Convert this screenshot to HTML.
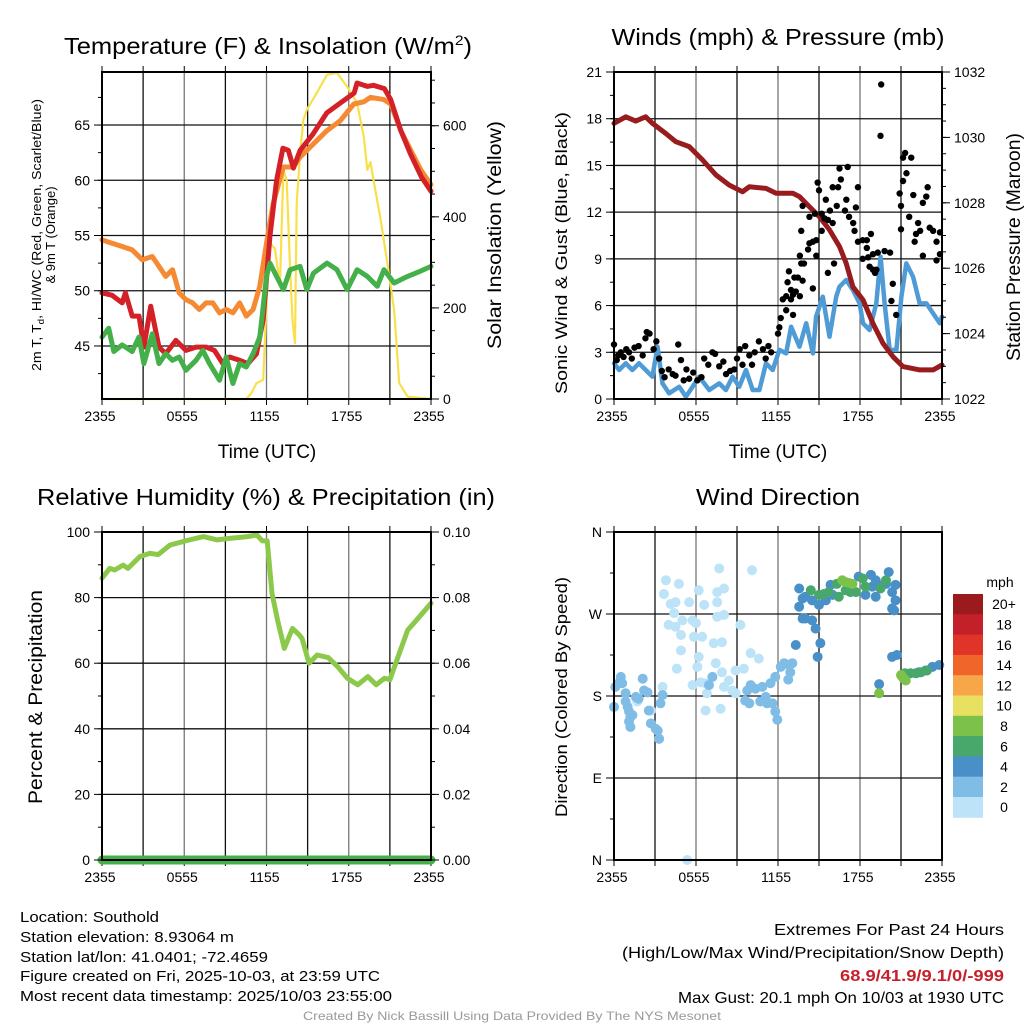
<!DOCTYPE html>
<html><head><meta charset="utf-8"><style>
html,body{margin:0;padding:0;background:#fff;}
svg{display:block;font-family:"Liberation Sans",sans-serif;}
</style></head><body>
<svg id="root" width="1024" height="1024" viewBox="0 0 1024 1024">
<rect width="1024" height="1024" fill="#fff"/>
<g id="layer"></g>
<!-- titles -->
<text x="64" y="54" font-size="23" textLength="408" lengthAdjust="spacingAndGlyphs">Temperature (F) &amp; Insolation (W/m<tspan font-size="14" dy="-9">2</tspan><tspan dy="9">)</tspan></text>
<text x="778" y="45" font-size="23" text-anchor="middle" textLength="333" lengthAdjust="spacingAndGlyphs">Winds (mph) &amp; Pressure (mb)</text>
<text x="266" y="505" font-size="23" text-anchor="middle" textLength="458" lengthAdjust="spacingAndGlyphs">Relative Humidity (%) &amp; Precipitation (in)</text>
<text x="778" y="505" font-size="23" text-anchor="middle" textLength="164" lengthAdjust="spacingAndGlyphs">Wind Direction</text>
<!-- axis titles -->
<text x="267" y="458" font-size="19" text-anchor="middle">Time (UTC)</text>
<text x="778" y="458" font-size="19" text-anchor="middle">Time (UTC)</text>
<text transform="translate(41,235) rotate(-90)" font-size="13" text-anchor="middle" textLength="272" lengthAdjust="spacingAndGlyphs">2m T, T<tspan font-size="9" dy="3">d</tspan><tspan dy="-3">, HI/WC (Red, Green, Scarlet/Blue)</tspan></text>
<text transform="translate(55,235) rotate(-90)" font-size="13" text-anchor="middle">&amp; 9m T (Orange)</text>
<text transform="translate(501,235) rotate(-90)" font-size="19" text-anchor="middle" textLength="228" lengthAdjust="spacingAndGlyphs">Solar Insolation (Yellow)</text>
<text transform="translate(567,253) rotate(-90)" font-size="17" text-anchor="middle" textLength="282" lengthAdjust="spacingAndGlyphs">Sonic Wind &amp; Gust (Blue, Black)</text>
<text transform="translate(1020,247) rotate(-90)" font-size="19" text-anchor="middle" textLength="228" lengthAdjust="spacingAndGlyphs">Station Pressure (Maroon)</text>
<text transform="translate(42,697) rotate(-90)" font-size="19" text-anchor="middle" textLength="214" lengthAdjust="spacingAndGlyphs">Percent &amp; Precipitation</text>
<text transform="translate(567,697) rotate(-90)" font-size="17" text-anchor="middle" textLength="240" lengthAdjust="spacingAndGlyphs">Direction (Colored By Speed)</text>
<text x="1000" y="587" font-size="14" text-anchor="middle">mph</text>
<!-- footer -->
<g font-size="15">
<text x="20" y="922" textLength="139" lengthAdjust="spacingAndGlyphs">Location: Southold</text>
<text x="20" y="942" textLength="214" lengthAdjust="spacingAndGlyphs">Station elevation: 8.93064 m</text>
<text x="20" y="962" textLength="248" lengthAdjust="spacingAndGlyphs">Station lat/lon: 41.0401; -72.4659</text>
<text x="20" y="981" textLength="360" lengthAdjust="spacingAndGlyphs">Figure created on Fri, 2025-10-03, at 23:59 UTC</text>
<text x="20" y="1001" textLength="372" lengthAdjust="spacingAndGlyphs">Most recent data timestamp: 2025/10/03 23:55:00</text>
</g>
<g font-size="16" text-anchor="end">
<text x="1004" y="935" textLength="230" lengthAdjust="spacingAndGlyphs">Extremes For Past 24 Hours</text>
<text x="1004" y="958" textLength="382" lengthAdjust="spacingAndGlyphs">(High/Low/Max Wind/Precipitation/Snow Depth)</text>
<text x="1004" y="981" fill="#c8202a" font-weight="bold" textLength="164" lengthAdjust="spacingAndGlyphs">68.9/41.9/9.1/0/-999</text>
<text x="1004" y="1003" textLength="326" lengthAdjust="spacingAndGlyphs">Max Gust: 20.1 mph On 10/03 at 1930 UTC</text>
</g>
<text x="512" y="1020" font-size="12" fill="#999" text-anchor="middle" textLength="418" lengthAdjust="spacingAndGlyphs">Created By Nick Bassill Using Data Provided By The NYS Mesonet</text>
</svg>
<script>
// ---- data ----
const timeTicks = ["2355","0555","1155","1755","2355"];
const tempTicks = [45,50,55,60,65];
const insolTicks = [0,200,400,600];
const windTicks = [0,3,6,9,12,15,18,21];
const presTicks = [1022,1024,1026,1028,1030,1032];
const rhTicks = [0,20,40,60,80,100];
const precipTicks = ["0.00","0.02","0.04","0.06","0.08","0.10"];
const dirTicks = ["N","E","S","W","N"];
const speedBins = ["0","2","4","6","8","10","12","14","16","18","20+"];
const speedColors = ["#bde3f8","#80bde6","#4a90c8","#48a86c","#7cc24a","#e8e060","#f8a748","#f0652a","#e03428","#c4202a","#9a1a1e"];

const tR = [0,0.73,1.47,1.71,2.2,2.7,3.06,3.55,4.16,4.65,5.39,6.12,6.86,7.59,8.2,8.82,9.3,10.04,10.65,11.27,11.76,12.25,12.74,13.2,13.6,13.96,14.45,15.4,16.4,17.4,18.4,18.6,19.35,19.8,20.6,21.06,21.8,22.5,23.3,24];
const tempRed = [49.8,49.6,48.9,49.8,47.7,47.7,44.9,48.6,44.9,44.3,45.5,44.6,44.9,44.9,44.6,43.4,44.0,43.7,43.4,44.3,47.4,54.9,60.0,62.9,62.7,61.1,62.7,64.2,66.1,67.0,67.9,68.8,68.5,68.6,68.3,67.3,64.5,62.4,60.3,59.0];
const tO = [0,0.73,1.47,2.2,2.94,3.67,4.16,4.65,5.14,5.63,6.12,6.61,7.1,7.59,8.08,8.57,9.06,9.55,10.04,10.53,11.02,11.51,12.0,12.49,13.23,13.96,14.45,15.43,16.41,17.39,18.37,19.1,19.59,20.57,21.06,21.8,22.53,23.27,24];
const temp9m = [54.6,54.3,54.0,53.7,52.8,53.1,52.2,51.3,51.9,49.8,49.2,48.9,48.3,48.9,48.9,48.0,48.3,48.0,48.9,47.7,48.3,50.4,54.3,57.9,61.2,61.2,62.1,63.3,64.5,65.4,66.9,67.1,67.5,67.3,66.9,64.5,62.7,60.9,59.6];
const tG = [0,0.49,0.86,1.47,2.2,2.69,3.06,3.67,4.16,4.65,5.14,5.63,6.12,6.86,7.35,7.84,8.57,9.06,9.55,10.04,10.53,11.02,11.51,12.0,12.25,12.74,13.23,13.72,14.45,14.94,15.43,16.41,17.14,17.88,18.61,19.35,20.08,20.57,21.31,22.29,23.27,24];
const dewpoint = [45.8,46.6,44.5,45.1,44.5,45.8,43.4,46.1,43.4,44.3,43.7,44.0,42.8,43.7,44.6,43.4,41.9,44.0,41.6,43.4,43.1,44.3,45.8,51.3,52.5,51.3,50.1,51.9,52.2,50.1,51.6,52.5,51.9,50.1,51.9,51.3,50.4,51.9,50.7,51.3,51.8,52.2];
const tS = [0,10.53,10.9,11.27,11.76,12.0,12.25,12.61,12.98,13.23,13.47,13.72,13.91,14.08,14.2,14.45,14.69,14.94,15.67,16.41,17.14,17.88,18.61,19.1,19.35,19.59,19.84,20.33,20.82,21.31,21.68,22.29,24];
const insolation = [0,0,13,35,42,211,343,330,250,503,480,284,167,123,430,540,613,635,672,712,716,686,650,576,503,520,475,393,298,196,35,5,0];

const tP = [0,0.86,1.59,2.32,2.81,3.79,4.52,5.5,6.48,7.46,8.44,9.41,9.9,11.12,11.86,13.08,13.57,14.06,15.04,15.77,16.5,16.99,17.48,18.22,18.95,19.68,20.42,21.15,22.37,23.35,24];
const pressure = [1030.43,1030.63,1030.5,1030.63,1030.43,1030.12,1029.87,1029.72,1029.31,1028.85,1028.54,1028.34,1028.49,1028.44,1028.29,1028.29,1028.19,1027.98,1027.57,1027.17,1026.66,1026.15,1025.43,1025.03,1024.31,1023.70,1023.29,1022.99,1022.89,1022.89,1023.04];
const tW = [0,0.37,0.86,1.34,1.83,2.32,2.81,3.18,3.55,4.03,4.77,5.26,5.75,6.23,6.97,7.7,8.19,8.68,9.17,9.66,10.15,10.64,11.12,11.61,12.1,12.59,12.96,13.57,14.06,14.55,14.79,15.28,15.77,16.26,16.5,16.99,17.48,17.97,18.22,18.7,19.19,19.51,19.8,20.17,20.66,21.03,21.39,21.88,22.37,22.86,23.35,23.84,24];
const windSpeed = [2.29,1.86,2.29,1.86,2.29,1.86,1.43,3.36,1.0,0.36,0.79,0.15,0.79,1.43,0.58,1.0,0.58,1.43,0.79,1.86,0.58,0.58,2.29,1.86,3.15,2.93,4.64,3.36,4.86,2.93,5.29,6.57,4.0,6.57,7.21,7.64,7.0,6.14,4.86,4.43,6.14,9.14,6.14,3.15,3.15,6.57,8.71,7.86,6.14,6.14,5.5,4.86,5.29];
const gustH = [0,0.2,0.3,0.5,0.7,0.9,1.1,1.3,1.5,1.8,2.1,2.3,2.4,2.6,2.9,3.1,3.3,3.5,3.7,4.0,4.3,4.5,4.7,4.9,5.1,5.3,5.5,5.8,6.1,6.4,6.6,6.9,7.2,7.4,7.7,8.0,8.2,8.5,8.8,9.0,9.2,9.4,9.6,9.9,10.1,10.3,10.6,10.9,11.1,11.3,11.5,
12.0,12.1,12.2,12.35,12.6,12.6,12.7,12.8,12.95,12.95,13.1,13.1,13.2,13.3,13.45,13.6,13.6,13.7,13.7,13.8,13.8,13.9,14.2,14.3,14.3,14.55,14.55,14.7,14.8,14.8,14.9,15.0,15.2,15.2,15.4,15.5,15.65,15.65,15.8,16.0,16.0,16.1,16.3,16.4,16.5,16.6,16.9,17.0,17.1,17.2,17.5,17.6,17.7,17.85,17.85,18.2,18.2,18.5,18.5,18.6,18.7,18.8,18.95,18.95,19.1,19.2,19.3,19.5,19.55,19.8,20.2,20.3,20.4,20.65,20.9,21.0,21.0,21.15,21.15,21.3,21.4,21.6,21.75,21.9,22.0,22.1,22.25,22.4,22.6,22.6,22.85,22.95,23.1,23.35,23.6,23.6,23.85,23.85];
const gustV = [3.5,2.5,2.8,3,2.7,3.2,3.0,2.6,3.3,3.4,2.8,3.9,4.3,4.2,3.2,3.7,2.6,1.8,1.4,1.9,1.6,1.5,3.5,2.5,1.2,1.9,1.3,1.7,1.2,1.4,2.6,2.2,3.0,2.9,2.1,2.4,1.6,1.8,1.9,2.6,3.2,2.2,3.4,2.8,2.2,3.0,3.7,3.2,2.6,3.4,3.0,
4.2,4.6,5.2,6.4,5.7,6.6,7.5,8.2,7.0,6.4,6.7,5.4,7.8,6.9,7.8,9.2,6.6,10.8,8.7,12.4,7.6,8.7,9.6,10.0,11.7,10.1,7.1,11.9,10.2,9.2,13.9,13.4,11.9,10.8,11.6,12.8,11.5,8.1,12.1,13.6,11.3,8.7,12.4,13.6,14.8,14.1,12.1,12.8,14.9,11.7,11.3,10.8,12.3,13.6,10.1,10.2,9.0,10.2,9.7,9.1,8.5,10.6,9.3,8.3,8.1,8.3,9.4,16.9,20.2,9.5,9.4,6.3,7.4,5.4,13.2,12.4,10.9,14.0,15.5,15.8,14.5,11.7,15.5,13.1,10.1,10.6,11.3,10.8,12.6,9.2,13.0,13.6,11.0,10.8,10.1,8.9,10.7,9.3];

const tRH = [0,0.56,0.93,1.54,1.9,2.76,3.5,4.1,4.96,6.2,7.4,8.4,9.4,10.6,11.3,11.7,12.05,12.4,12.8,13.3,13.9,14.4,14.6,15.1,15.7,16.5,17.2,17.9,18.65,19.4,20.0,20.6,21.0,21.6,22.3,23.06,24];
const relHum = [85.9,88.9,88.4,89.9,88.9,92.5,93.5,93.1,96.0,97.4,98.6,97.6,98.1,98.6,99.1,97.3,97.3,81.3,73.2,64.5,70.6,68.6,67.5,60.0,62.5,61.7,58.9,55.4,53.4,55.9,53.4,55.4,55.0,62.0,70.1,73.7,78.3];
const tPrecip = [0,24];
const precip = [0,0];

const groupSpeed = [1,3,3,5,7,9];
const dirH1 = [3.8,3.65,4.15,4.5,4.75,4.4,4.0,4.5,4.9,5.0,5.5,5.75,6.0,6.2,6.6,6.45,5.85,7.55,8.05,7.55,7.55,8.05,7.3,7.9,6.2,6.1,4.6,4.9,5.75,6.35,6.7,7.45,7.9,8.9,9.25,7.7,10.1,10.0,10.6,9.5,6.8,8.65,8.9,6.7,7.8,1.7,2.7,5.35,3.55,8.05,8.4];
const dirD1 = [307,292,281,283,303,271,258,256,247,263,283,263,260,296,280,245,245,294,298,283,267,269,238,239,223,212,210,230,192,195,194,216,206,208,258,320,318,227,221,210,183,186,183,164,166,174,164,0,190,190,197];
const dirH2 = [0,0.1,0.4,0.5,0.6,0.85,0.85,1.0,1.1,1.2,1.35,1.2,1.1,1.6,1.8,2.1,2.2,2.45,2.55,2.7,3.05,3.3,3.4,3.55,3.2];
const dirD2 = [168,190,195,201,194,183,174,168,163,157,159,146,152,179,177,199,186,184,164,150,144,133,172,181,142];
const dirH3 = [7.2,6.95,9.75,10.0,10.35,10.85,11.45,11.1,10.7,11.2,11.6,11.8,11.95,11.8,12.2,12.45,12.8,13.05,12.9,12.75,9.9,9.6];
const dirD3 = [201,192,186,192,188,190,194,179,174,172,172,163,154,201,212,216,214,216,206,198,172,175];
const dirH4 = [13.55,13.8,14.0,14.5,15.0,15.5,16.0,15.85,13.55,13.8,14.0,14.5,14.75,15.1,13.3,14.9,18.8,19.15,20.1,19.3,19.9,20.35,20.6,19.15,18.4,20.6,20.35,20.5,20.35,20.7,19.4,22.3,22.8,23.3,23.8,17.9,18.9];
const dirD4 = [298,287,289,285,280,285,291,302,278,265,265,263,254,238,236,223,313,307,316,302,303,294,302,289,291,285,276,274,223,225,193,206,208,212,214,311,300];
const dirH5 = [14.4,15.0,15.35,15.7,16.45,16.3,17.1,17.7,18.2,18.4,19.5,19.9,21.3,21.7,22.1,22.45,22.9,16.95,17.3];
const dirD5 = [296,291,292,294,289,303,303,294,309,300,298,307,205,205,205,206,208,296,294];
const dirH6 = [16.7,16.95,17.2,17.45,21.1,21.35,21.0,19.4,21.2];
const dirD6 = [307,305,304,303,201,197,203,183,199];

// ---- helpers ----
const NS = "http://www.w3.org/2000/svg";
const layer = document.getElementById('layer');
function mk(tag, attrs, parent){
  const e = document.createElementNS(NS, tag);
  for (const k in attrs) e.setAttribute(k, attrs[k]);
  (parent || layer).appendChild(e);
  return e;
}
function lin(d0,d1,r0,r1){ return v => r0 + (v-d0)/(d1-d0)*(r1-r0); }
function pathD(xs, ys, X, Y){
  let s = "";
  for (let i=0;i<xs.length;i++) s += (i?"L":"M") + X(xs[i]).toFixed(1) + "," + Y(ys[i]).toFixed(1);
  return s;
}

const panels = {
  temp: {x0:102,x1:431,y0:72,y1:399},
  wind: {x0:614,x1:942,y0:72,y1:399},
  rh:   {x0:102,x1:431,y0:532,y1:860},
  dir:  {x0:614,x1:942,y0:532,y1:860}
};

function drawGridFrame(p, name, hVals, Y){
  const X = lin(0,24,p.x0,p.x1);
  for (let h=3; h<24; h+=3){
    const g = mk('line',{x1:X(h),x2:X(h),y1:p.y0,y2:p.y1,stroke:(h%6===0?'#777':'#111'),'stroke-width':1.3});
    
    
  }
  for (const v of hVals){
    const g = mk('line',{x1:p.x0,x2:p.x1,y1:Y(v),y2:Y(v),stroke:'#111','stroke-width':1.3});
    
    
  }
  for (let h=0; h<=24; h+=3){
    const t1 = mk('line',{x1:X(h),x2:X(h),y1:p.y1,y2:p.y1+6,stroke:'#000','stroke-width':1});
    
    
    const t2 = mk('line',{x1:X(h),x2:X(h),y1:p.y0,y2:p.y0-6,stroke:'#000','stroke-width':1});
    
    
  }
  timeTicks.forEach((lab,i)=>{
    const t = mk('text',{x:X(i*6)-2,y:p.y1+22,'font-size':14,'text-anchor':'middle'});
    t.textContent = lab;
    
    
  });
  return X;
}
function frame(p, name){
  const r = mk('rect',{x:p.x0,y:p.y0,width:p.x1-p.x0,height:p.y1-p.y0,fill:'none',stroke:'#000','stroke-width':2});
  
  
}
function yTicks(p, name, vals, labels, Y, side, minorStep, lo, hi){
  const xe = side==='left' ? p.x0 : p.x1;
  const dir = side==='left' ? -1 : 1;
  if (minorStep){
    for (let v=lo; v<=hi+1e-9; v+=minorStep){
      const m = mk('line',{x1:xe,x2:xe+dir*4,y1:Y(v),y2:Y(v),stroke:'#000','stroke-width':1});
      
      
    }
  }
  vals.forEach((v,i)=>{
    const t = mk('line',{x1:xe,x2:xe+dir*8,y1:Y(v),y2:Y(v),stroke:'#000','stroke-width':1});
    
    
    const l = mk('text',{x:xe+dir*12,y:Y(v)+5,'font-size':14,'text-anchor':side==='left'?'end':'start'});
    l.textContent = labels[i];
    
    
  });
}

// ---- Panel 1: temperature ----
{
  const p = panels.temp;
  const Yt = lin(40.2,69.8,p.y1,p.y0);
  const Ys = lin(0,718,p.y1,p.y0);
  const X = drawGridFrame(p,'temp',tempTicks,Yt);
  const ins = mk('path',{d:pathD(tS,insolation,X,Ys),fill:'none',stroke:'#f9e04b','stroke-width':2.2,'stroke-linejoin':'round'});
  
  
  const o = mk('path',{d:pathD(tO,temp9m,X,Yt),fill:'none',stroke:'#f58a32','stroke-width':5,'stroke-linejoin':'round','stroke-linecap':'round'});
  
  
  const r = mk('path',{d:pathD(tR,tempRed,X,Yt),fill:'none',stroke:'#d42027','stroke-width':5,'stroke-linejoin':'round','stroke-linecap':'round'});
  
  
  const g = mk('path',{d:pathD(tG,dewpoint,X,Yt),fill:'none',stroke:'#43b04a','stroke-width':5,'stroke-linejoin':'round','stroke-linecap':'round'});
  
  
  frame(p,'temp');
  yTicks(p,'temp-left',tempTicks,tempTicks,Yt,'left',2.5,42.5,67.5);
  yTicks(p,'insolation-right',insolTicks,insolTicks,Ys,'right',50,0,700);
}
// ---- Panel 2: wind/pressure ----
{
  const p = panels.wind;
  const Yw = lin(0,21,p.y1,p.y0);
  const Yp = lin(1022,1032,p.y1,p.y0);
  const X = drawGridFrame(p,'wind',windTicks.slice(1,7),Yw);
  const w = mk('path',{d:pathD(tW,windSpeed,X,Yw),fill:'none',stroke:'#4f9bd6','stroke-width':4.5,'stroke-linejoin':'round','stroke-linecap':'round'});
  
  
  const pr = mk('path',{d:pathD(tP,pressure,X,Yp),fill:'none',stroke:'#981b1e','stroke-width':5,'stroke-linejoin':'round','stroke-linecap':'round'});
  
  
  for (let i=0;i<gustH.length;i++){
    const c = mk('circle',{cx:X(gustH[i]),cy:Yw(gustV[i]),r:3.2,fill:'#000'});
    
    
  }
  frame(p,'wind');
  yTicks(p,'wind-left',windTicks,windTicks,Yw,'left',1.5,0,21);
  yTicks(p,'pressure-right',presTicks,presTicks,Yp,'right',0.5,1022,1032);
}
// ---- Panel 3: RH ----
{
  const p = panels.rh;
  const Yr = lin(0,100,p.y1,p.y0);
  const Yq = lin(0,0.1,p.y1,p.y0);
  const X = drawGridFrame(p,'rh',rhTicks.slice(1,5),Yr);
  const l = mk('path',{d:pathD(tRH,relHum,X,Yr),fill:'none',stroke:'#8cc94a','stroke-width':5,'stroke-linejoin':'round','stroke-linecap':'round'});
  
  
  const q = mk('path',{d:pathD(tPrecip,precip,X,Yq),fill:'none',stroke:'#43b04a','stroke-width':9,'stroke-linecap':'round'});
  
  
  frame(p,'rh');
  yTicks(p,'rh-left',rhTicks,rhTicks,Yr,'left',10,0,100);
  yTicks(p,'precip-right',rhTicks,precipTicks,Yr,'right',10,0,100);
}
// ---- Panel 4: wind direction ----
{
  const p = panels.dir;
  const Yd = lin(0,360,p.y1,p.y0);
  const X = drawGridFrame(p,'dir',[90,180,270],Yd);
  const hs = [dirH1,dirH2,dirH3,dirH4,dirH5,dirH6];
  const ds = [dirD1,dirD2,dirD3,dirD4,dirD5,dirD6];
  hs.forEach((H,gi)=>{
    const col = speedColors[Math.min(10,Math.floor(groupSpeed[gi]/2))];
    for (let i=0;i<H.length;i++){
      const c = mk('circle',{cx:X(H[i]),cy:Yd(ds[gi][i]),r:5,fill:col});
      
      
    }
  });
  frame(p,'dir');
  yTicks(p,'dir-left',[0,90,180,270,360],dirTicks,Yd,'left',45,0,360);
  // colorbar
  const cb0 = 594, cbH = 20.3;
  for (let i=0;i<speedBins.length;i++){
    const idx = speedBins.length-1-i;
    const r = mk('rect',{x:953,y:cb0+i*cbH,width:30,height:cbH+0.5,fill:speedColors[idx]});
    
    
    const t = mk('text',{x:1004,y:cb0+i*cbH+cbH/2+5,'font-size':14,'text-anchor':'middle'});
    t.textContent = speedBins[idx];
    
    
  }
}
</script>
</body></html>
